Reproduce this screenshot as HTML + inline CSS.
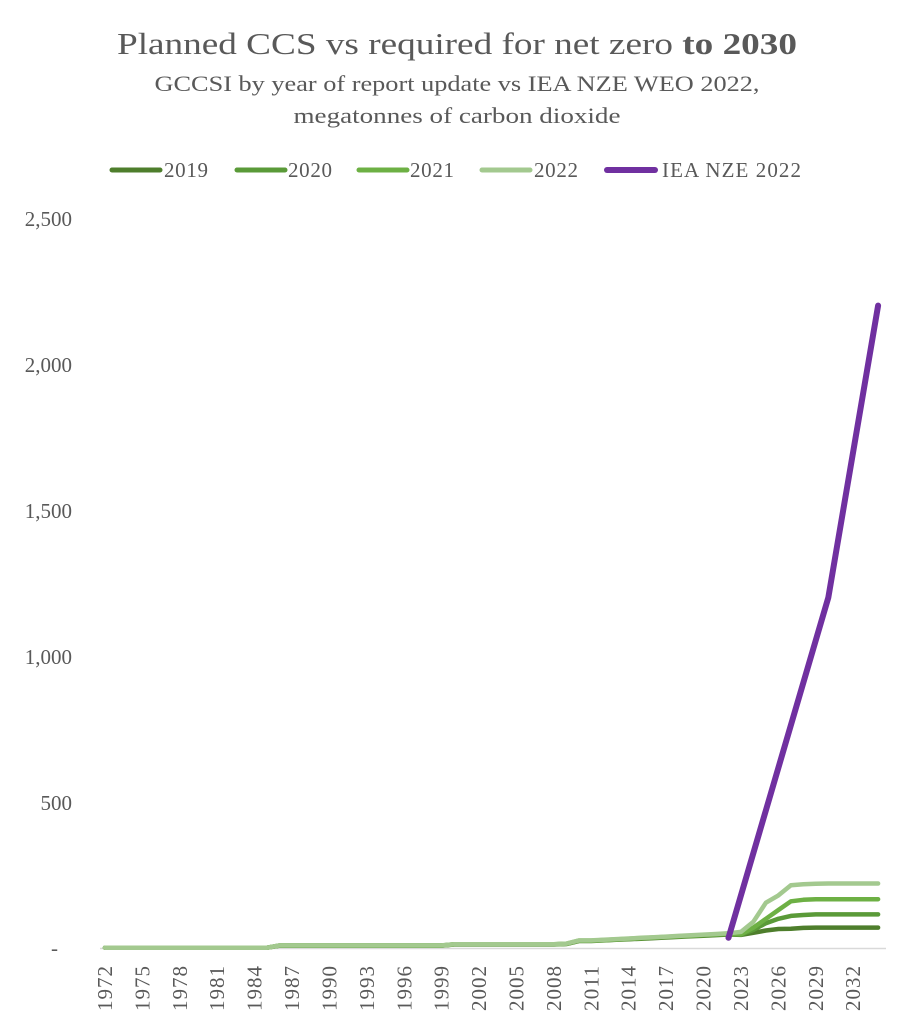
<!DOCTYPE html>
<html><head><meta charset="utf-8"><style>
html,body{margin:0;padding:0;background:#fff;}
svg{display:block;font-family:"Liberation Serif",serif;}
</style></head><body>
<svg id="s" width="913" height="1024" viewBox="0 0 913 1024" xmlns="http://www.w3.org/2000/svg">
<text x="457" y="54" text-anchor="middle" font-size="31" fill="#595959" textLength="680" lengthAdjust="spacingAndGlyphs">Planned CCS vs required for net zero <tspan font-weight="bold">to 2030</tspan></text>
<text x="457" y="91" text-anchor="middle" font-size="22" fill="#595959" textLength="605" lengthAdjust="spacingAndGlyphs">GCCSI by year of report update vs IEA NZE WEO 2022,</text>
<text x="457" y="123" text-anchor="middle" font-size="22" fill="#595959" textLength="327" lengthAdjust="spacingAndGlyphs">megatonnes of carbon dioxide</text>
<g font-size="21" fill="#595959">
<line x1="112" y1="170" x2="160" y2="170" stroke="#4e7e2c" stroke-width="5" stroke-linecap="round"/><text x="164" y="177" textLength="44">2019</text>
<line x1="237" y1="170" x2="285" y2="170" stroke="#5a9a38" stroke-width="5" stroke-linecap="round"/><text x="288" y="177" textLength="44">2020</text>
<line x1="359" y1="170" x2="407" y2="170" stroke="#6db044" stroke-width="5" stroke-linecap="round"/><text x="410" y="177" textLength="44">2021</text>
<line x1="482" y1="170" x2="530" y2="170" stroke="#a3c98f" stroke-width="5" stroke-linecap="round"/><text x="534" y="177" textLength="44">2022</text>
<line x1="607" y1="170" x2="655" y2="170" stroke="#7030a0" stroke-width="6" stroke-linecap="round"/><text x="662" y="177" textLength="139">IEA NZE 2022</text>
</g>
<g font-size="21" fill="#595959" text-anchor="end">
<text x="72" y="226">2,500</text>
<text x="72" y="372">2,000</text>
<text x="72" y="518">1,500</text>
<text x="72" y="664">1,000</text>
<text x="72" y="810">500</text>
<text x="58" y="955">-</text>
</g>
<line x1="100" y1="948.5" x2="886" y2="948.5" stroke="#d9d9d9" stroke-width="1.5"/>
<g id="xl" font-size="21" fill="#595959"></g>
<g id="lines" fill="none" stroke-linecap="round" stroke-linejoin="round"></g>
</svg>
<script>
var X=function(yr){return 105+(yr-1972)*12.47;};
var Y=function(v){return 948-v*0.292;};
var xl=document.getElementById('xl');
for(var yr=1972;yr<=2032;yr+=3){
 var t=document.createElementNS('http://www.w3.org/2000/svg','text');
 t.setAttribute('transform','translate('+(X(yr)+7)+',1011) rotate(-90)');
 t.setAttribute('textLength','45');
 t.textContent=yr;xl.appendChild(t);
}
var hist=[];
for(var yr=1972;yr<=2022;yr++){
 var v;
 if(yr<=1985)v=1;else if(yr<=1999)v=9;else if(yr<=2008)v=13;
 else if(yr==2009)v=15;else if(yr==2010)v=26;else if(yr==2011)v=26;
 else v=26+(yr-2011)*2.2;
 hist.push([yr,v]);
}
function series(tail,off){
 var pts=hist.map(function(p){return [p[0],p[1]*(1-off)];});
 for(var i=0;i<tail.length;i++)pts.push([2023+i,tail[i]]);
 return pts;
}
var S=[
 [series([45,52,60,65,66,69,70,70,70,70,70,70],0.08),'#4e7e2c'],
 [series([46,62,85,100,110,113,115,115,115,115,115,115],0.05),'#5a9a38'],
 [series([47,70,100,130,160,165,167,167,167,167,167,167],0.03),'#6db044'],
 [series([55,90,155,180,215,218,220,221,221,221,221,221],0),'#a3c98f']
];
var g=document.getElementById('lines');
function pl(pts,c,w){
 var p=document.createElementNS('http://www.w3.org/2000/svg','polyline');
 p.setAttribute('points',pts.map(function(q){return X(q[0]).toFixed(1)+','+Y(q[1]).toFixed(1);}).join(' '));
 p.setAttribute('stroke',c);p.setAttribute('stroke-width',w);g.appendChild(p);
}
S.forEach(function(s){pl(s[0],s[1],4.5);});
pl([[2022,35],[2030,1200],[2034,2200]],'#7030a0',6);
</script>
</body></html>
